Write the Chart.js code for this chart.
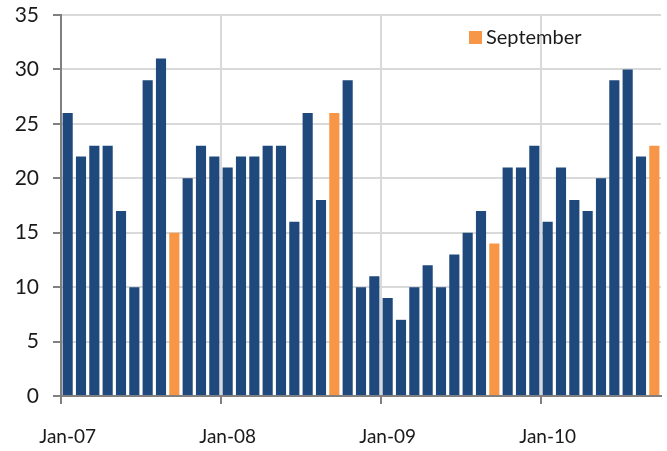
<!DOCTYPE html>
<html lang="en">
<head>
  <meta charset="UTF-8">
  <title>Monthly values, September highlighted</title>
  <script src="https://cdn.jsdelivr.net/npm/chart.js@4.4.1/dist/chart.umd.min.js"></script>
  <style>
    html, body { margin: 0; padding: 0; background: #fff; }
    #wrap { width: 667px; height: 451px; position: relative; }
  </style>
</head>
<body>
  <div id="wrap"><canvas id="chart"></canvas></div>

  <script>
    // Monthly categories Jan-07 .. Sep-10
    const years = ['07', '08', '09', '10'];
    const monthNames = ['Jan', 'Feb', 'Mar', 'Apr', 'May', 'Jun', 'Jul', 'Aug', 'Sep', 'Oct', 'Nov', 'Dec'];

    // Values, one row per year
    const values07 = [26, 22, 23, 23, 17, 10, 29, 31, 15, 20, 23, 22];
    const values08 = [21, 22, 22, 23, 23, 16, 26, 18, 26, 29, 10, 11];
    const values09 = [9, 7, 10, 12, 10, 13, 15, 17, 14, 21, 21, 23];
    const values10 = [16, 21, 18, 17, 20, 29, 30, 22, 23];

    const yTicks = [0, 5, 10, 15, 20, 25, 30, 35];

    const values = [...values07, ...values08, ...values09, ...values10];
    const labels = values.map((v, i) => monthNames[i % 12] + '-' + years[Math.floor(i / 12)]);

    // September bars go in their own series (orange)
    const otherMonths = values.map((v, i) => (i % 12 === 8 ? null : v));
    const september = values.map((v, i) => (i % 12 === 8 ? v : null));

    const FONT = 'Lato, "DejaVu Sans", sans-serif';

    // Small legend drawn in the top right of the plot (September only)
    const septLegend = {
      id: 'septLegend',
      afterDraw(chart) {
        const ds = chart.data.datasets[1];
        const ctx = chart.ctx;
        const area = chart.chartArea;
        const x = area.left + 408;
        const y = area.top + 16;
        ctx.save();
        ctx.fillStyle = ds.backgroundColor;
        ctx.fillRect(x, y, 13, 13);
        ctx.fillStyle = '#1a1a1a';
        ctx.font = '20px ' + FONT;
        ctx.textBaseline = 'middle';
        ctx.fillText(ds.label, x + 17, y + 7);
        ctx.restore();
      }
    };

    new Chart(document.getElementById('chart'), {
      type: 'bar',
      data: {
        labels: labels,
        datasets: [{
          label: 'Other',
          data: otherMonths,
          backgroundColor: '#1F497D',
          barPercentage: 1,
          categoryPercentage: 0.76
        }, {
          label: 'September',
          data: september,
          backgroundColor: '#F79646',
          barPercentage: 1,
          categoryPercentage: 0.76
        }]
      },
      plugins: [septLegend],
      options: {
        responsive: true,
        maintainAspectRatio: false,
        animation: false,
        layout: { padding: 0 },
        plugins: {
          tooltip: { enabled: false },
          legend: { display: false }
        },
        scales: {
          x: {
            stacked: true,
            offset: true,
            border: { color: '#808080', width: 2 },
            grid: {
              offset: true,
              drawOnChartArea: true,
              color: (ctx) => (ctx.index % 12 === 0 && ctx.index > 0 ? '#d9d9d9' : 'rgba(0,0,0,0)'),
              tickColor: (ctx) => (ctx.index % 12 === 0 ? '#808080' : 'rgba(0,0,0,0)'),
              lineWidth: 2,
              tickLength: 8
            },
            ticks: {
              autoSkip: false,
              maxRotation: 0,
              padding: 21,
              color: '#1a1a1a',
              font: { family: FONT, size: 19 },
              callback: function (val, i) { return i % 12 === 0 ? labels[i] : ''; }
            },
            afterFit: (scale) => {
              scale.height = 55;
              scale.paddingLeft = 0;
              scale.paddingRight = 6;
            }
          },
          y: {
            stacked: true,
            min: 0,
            max: 35,
            border: { color: '#808080', width: 2 },
            grid: {
              color: (ctx) => (ctx.tick && ctx.tick.value === 0 ? 'rgba(0,0,0,0)' : '#d9d9d9'),
              tickColor: '#808080',
              lineWidth: 2,
              tickLength: 8
            },
            afterBuildTicks: (scale) => { scale.ticks = yTicks.map(v => ({ value: v })); },
            ticks: {
              padding: 14,
              color: '#1a1a1a',
              font: { family: FONT, size: 21 }
            },
            afterFit: (scale) => {
              scale.width = 61;
              scale.paddingTop = 15;
              scale.paddingBottom = 0;
            }
          }
        }
      }
    });
  </script>
</body>
</html>
